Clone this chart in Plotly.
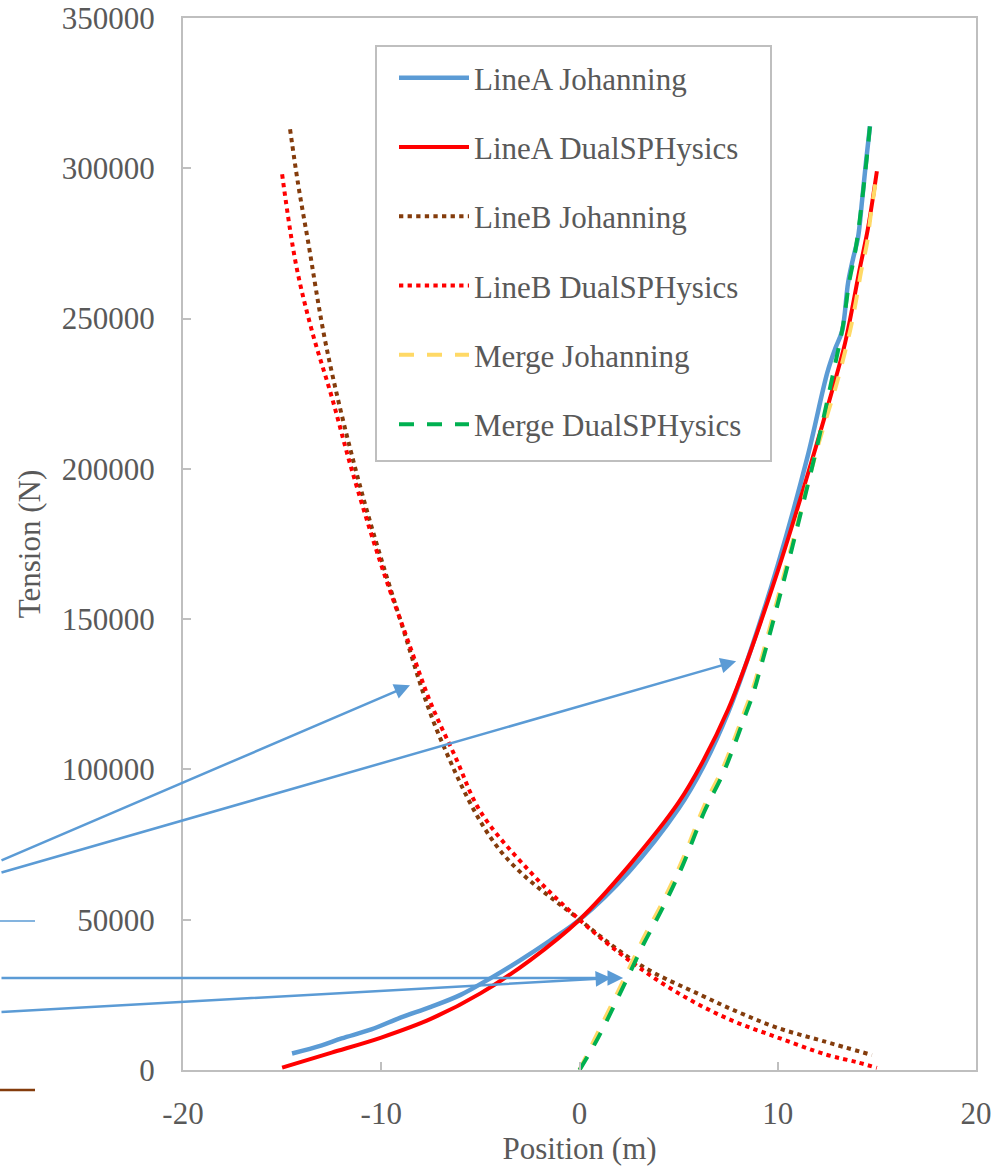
import plotly.graph_objects as go

# ---------------- data ----------------
lineA_joh_x = [-14.5, -13.0, -12.0, -10.5, -9.0, -7.5, -6.0, -4.5, -3.0, -1.5, 0.0, 2.5, 5.0, 6.25, 7.5, 8.5,
               10.0, 11.5, 12.5, 12.9, 13.25, 13.55, 13.8, 14.05, 14.25, 14.45, 14.65]
lineA_joh_y = [5500, 8200, 10500, 13500, 17500, 21000, 25000, 30500, 36500, 43000, 50000, 66000, 87000, 101000,
               119000, 137000, 168000, 204000, 232000, 240000, 246000, 262000, 270000, 277000, 289000, 302000, 314000]

lineA_dsph_x = [-15.0, -14.0, -12.5, -10.0, -7.5, -5.0, -2.5, 0.0, 2.5, 5.0, 6.25, 7.5, 8.5, 10.0, 11.0, 12.0,
                12.7, 13.4, 14.15, 14.55, 15.0]
lineA_dsph_y = [800, 2800, 5800, 10800, 17000, 25500, 36500, 50000, 68000, 89000, 103000, 120000, 137000, 166000,
                187000, 209000, 225000, 242000, 267000, 280000, 299000]

lineB_joh_x = [-14.6, -14.2, -13.7, -12.75, -11.1, -9.05, -7.0, -4.0, 0.0, 3.15, 6.1, 8.1, 10.0, 12.3, 14.75]
lineB_joh_y = [313000, 295000, 276000, 240000, 195000, 150000, 110000, 73000, 50000, 34600, 25000, 19000, 14000,
               9600, 5000]

lineB_dsph_x = [-15.0, -14.3, -13.5, -12.5, -11.5, -10.0, -8.5, -7.5, -6.25, -5.0, -2.5, 0.0, 2.5, 5.0, 7.5,
                10.0, 12.5, 14.0, 15.0]
lineB_dsph_y = [298000, 268000, 246000, 224000, 200000, 168000, 140000, 122000, 104000, 86000, 66000, 50000,
                36500, 25500, 17000, 10800, 5000, 2600, 700]

merge_joh_x = [0.0, 0.93, 2.3, 3.2, 4.2, 5.2, 6.3, 7.2, 7.75, 8.25, 8.75, 9.1, 10.0, 11.0, 12.0, 13.0, 13.65,
               13.95, 14.2, 14.5, 14.7, 15.0]
merge_joh_y = [0, 12500, 31000, 43500, 56000, 70000, 88000, 100000, 109000, 118000, 127000, 135000, 157000,
               182000, 207000, 229000, 246000, 256000, 265500, 275000, 285000, 298000]

merge_dsph_x = [0.0, 0.93, 2.3, 3.2, 4.2, 5.2, 6.3, 7.2, 7.75, 8.25, 8.75, 9.1, 10.0, 11.0, 12.0, 12.9, 13.3,
                13.6, 13.9, 14.1, 14.3, 14.5, 14.65]
merge_dsph_y = [0, 10600, 29000, 41500, 54000, 68000, 86000, 98000, 107000, 116000, 125000, 133000, 155000,
                181000, 208000, 235000, 248000, 262000, 272000, 281000, 292000, 304000, 314000]

series_names = ["LineA Johanning", "LineA DualSPHysics", "LineB Johanning", "LineB DualSPHysics",
                "Merge Johanning", "Merge DualSPHysics"]

x_ticks = [-20, -10, 0, 10, 20]
y_ticks = [0, 50000, 100000, 150000, 200000, 250000, 300000, 350000]

# arrow heads (data coordinates)
arrow_head_x = [-8.55, 7.9, 2.2, 1.6]
arrow_head_y = [128000, 136000, 30600, 30600]

# ---------------- figure ----------------
FONT = "Liberation Serif"
TXT = "#595959"
GRID = "#bfbfbf"

fig = go.Figure()
styles = [
    dict(color="#5B9BD5", width=4.5, dash="solid"),
    dict(color="#FF0000", width=4, dash="solid"),
    dict(color="#843C0C", width=4, dash="4.3px,4.3px"),
    dict(color="#FF0000", width=4, dash="4.3px,4.3px"),
    dict(color="#FFD966", width=4, dash="15px,13px"),
    dict(color="#00B050", width=4, dash="15px,13px"),
]
data = [(lineA_joh_x, lineA_joh_y), (lineA_dsph_x, lineA_dsph_y), (lineB_joh_x, lineB_joh_y),
        (lineB_dsph_x, lineB_dsph_y), (merge_joh_x, merge_joh_y), (merge_dsph_x, merge_dsph_y)]
for (xs, ys), name, st in zip(data, series_names, styles):
    fig.add_trace(go.Scatter(x=xs, y=ys, name=name, mode="lines",
                             line=dict(color=st["color"], width=st["width"], dash=st["dash"],
                                       shape="spline", smoothing=1.0),
                             legendgroup=name))

# page body margin is removed in the page (post_script), so figure px == window px
W, H = 1006, 1169
L, T = 183, 18
R = W - 976
B = H - 1070
pw, ph = W - L - R, H - T - B


def px_x(wx):  # window px -> paper x
    return (wx - L) / pw


def px_y(wy):  # window px -> paper y
    return 1 - (wy - T) / ph


def to_win(x, y):
    return L + (x + 20) / 40 * pw, T + (350000 - y) / 350000 * ph


# arrows coming in from the left edge
tails_win = [(-3, 861), (-3, 873), (-3, 978), (-3, 1012)]
for hx, hy, (tx, ty) in zip(arrow_head_x, arrow_head_y, tails_win):
    wx, wy = to_win(hx, hy)
    fig.add_annotation(x=hx, y=hy, xref="x", yref="y", text="", showarrow=True,
                       ax=tx - wx, ay=ty - wy, arrowcolor="#5B9BD5", arrowwidth=2.5,
                       arrowhead=2, arrowsize=1.25, standoff=0)

# fragments of other elements at the left edge
fig.add_shape(type="line", xref="paper", yref="paper", x0=px_x(0), x1=px_x(35),
              y0=px_y(921), y1=px_y(921), line=dict(color="#5B9BD5", width=1.5))
fig.add_shape(type="line", xref="paper", yref="paper", x0=px_x(0), x1=px_x(35),
              y0=px_y(1090), y1=px_y(1090), line=dict(color="#843C0C", width=2.5))

# legend frame
fig.add_shape(type="rect", xref="paper", yref="paper", x0=px_x(376), x1=px_x(771),
              y0=px_y(461), y1=px_y(46), line=dict(color=GRID, width=2), fillcolor="white",
              layer="below")

fig.update_layout(
    width=W, height=H,
    margin=dict(l=L, r=R, t=T, b=B, pad=0, autoexpand=False),
    paper_bgcolor="white", plot_bgcolor="white",
    font=dict(family=FONT, size=31, color=TXT),
    showlegend=True,
    legend=dict(x=px_x(394), y=px_y(51), xanchor="left", yanchor="top",
                bgcolor="rgba(0,0,0,0)", borderwidth=0,
                font=dict(family=FONT, size=31, color=TXT),
                tracegroupgap=26, itemwidth=70),
    xaxis=dict(range=[-20, 20], tickvals=x_ticks, ticktext=[str(v) for v in x_ticks],
               showgrid=False, zeroline=False, showline=True, linecolor=GRID, linewidth=2,
               mirror=True, ticks="inside", ticklen=8, tickwidth=2, tickcolor=GRID, automargin=False,
               tickfont=dict(family=FONT, size=31, color=TXT), ticklabeloverflow="allow",
               title=dict(text="Position (m)", standoff=4, font=dict(family=FONT, size=31, color=TXT)),
               ticklabelstandoff=15),
    yaxis=dict(range=[0, 350000], tickvals=y_ticks, ticktext=[str(v) for v in y_ticks],
               showgrid=False, zeroline=False, showline=True, linecolor=GRID, linewidth=2,
               mirror=True, ticks="inside", ticklen=8, tickwidth=2, tickcolor=GRID, automargin=False,
               tickfont=dict(family=FONT, size=31, color=TXT), ticklabeloverflow="allow",
               title=dict(text="Tension (N)", standoff=12, font=dict(family=FONT, size=31, color=TXT)),
               ticklabelstandoff=20),
)

fig.write_html("out.html", config={"displayModeBar": False},
               post_script="document.body.style.margin='0px';document.body.style.overflow='hidden';")
